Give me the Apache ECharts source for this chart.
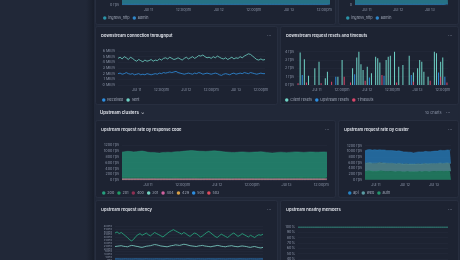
<!DOCTYPE html>
<html><head><meta charset="utf-8">
<script src="https://cdn.jsdelivr.net/npm/echarts@6/dist/echarts.min.js"></script>
<style>html,body{margin:0;padding:0;background:#212838;}#c{width:460px;height:260px;}</style>
</head><body><div id="c"></div>
<script>
// ---------- DATA ----------
const tickIndex = [9, 21, 33, 45, 57, 69];
const tickLabels = ['Jul 11', '12:00pm', 'Jul 12', '12:00pm', 'Jul 13', '12:00pm'];
const hours = Array.from({length: 72}, (_, i) => String(i)); // hourly slots, Jul 10 15:00 .. Jul 13 14:00

const ingressHttp = [
 820,830,840,835,825,830,845,850,840,820,810,815,805,800,810,820,825,815,830,840,845,850,860,870,
 875,865,860,855,850,845,855,865,870,860,850,835,825,820,810,805,815,825,830,820,810,815,825,830,
 835,825,815,805,795,800,810,820,815,805,810,820,830,825,815,810,820,830,825,820,815,825,830,820];
const adminReq = [
 20,21,20,19,20,21,20,20,19,20,21,20,20,19,20,21,20,20,19,20,21,20,20,19,
 20,21,20,20,19,20,21,20,20,19,20,21,20,20,19,20,21,20,20,19,20,21,20,20,
 19,20,21,20,20,19,20,21,20,20,19,20,21,20,20,19,20,21,20,20,19,20,21,20];

const sentMB = [
 4.7,4.9,4.6,5.0,4.8,4.5,4.9,4.7,4.4,4.2,4.5,4.3,
 4.1,4.4,4.2,4.3,4.5,4.2,4.4,4.3,4.6,4.4,4.7,4.8,
 4.6,4.9,4.7,4.5,4.6,4.8,4.6,4.4,4.7,4.9,4.6,4.8,
 5.0,4.7,4.9,5.2,5.1,5.3,5.0,4.8,4.9,4.7,5.0,4.8,
 5.1,4.9,4.7,4.6,4.8,4.5,4.7,4.9,4.6,4.8,4.7,5.0,
 4.8,5.1,5.3,5.5,5.4,5.1,4.8,4.5,4.4,4.6,4.4,4.5];
const receivedMB = [
 2.0,2.1,1.9,2.0,2.2,2.0,1.9,2.0,1.8,1.9,2.0,1.8,
 1.9,1.8,2.0,1.9,1.8,1.9,2.0,1.9,2.1,2.0,2.2,2.1,
 2.2,2.3,2.2,2.3,2.4,2.2,2.1,2.0,1.9,2.0,2.1,2.0,
 1.9,2.1,2.0,2.2,2.1,1.9,2.0,2.1,2.0,1.9,2.0,2.1,
 2.0,1.8,1.7,1.9,2.0,1.9,1.8,2.0,2.1,1.9,2.0,2.1,
 2.0,2.2,2.1,2.0,2.2,2.1,2.0,1.9,2.0,2.1,2.0,2.0];

const clientResets = [
 0,3.9,0,3.1,0,1.1,0,0,2.0,0,2.8,0,
 0,0.8,1.6,0,0,0,0,1.0,0,3.0,0,0,
 0,0,2.0,0,3.3,4.0,2.5,1.8,0,2.2,0,1.4,
 0,3.4,3.2,2.7,0,0,3.0,3.4,3.5,0,4.0,0,
 2.2,0,2.4,0,0,3.5,0,1.5,0,2.0,3.0,2.8,
 1.6,0,1.0,0,0,4.0,3.8,0,2.8,3.3,0,0];
const upstreamResets = [
 0,0,1.2,0,0,0,0,0,0,0,0,0,
 0,0,0,0,0,0,1.0,0,0,0,0,0,
 0,0,0,1.3,0,0,0,0,0,0,0.9,0,
 0,0,0,0,0,1.1,0,0,0,0,0,0,
 0,0,0,0,0,0,1.2,0,0,0,0,0,
 0,0,0,0,0,0,0,1.5,0,0,1.0,0];
const timeouts = [
 0.2,0,0,0,0.3,0,0,0,0,0,0,0.2,
 0,0,0,0,0.4,0,0,0,0,0,1.0,0,
 0,0.3,0,0,0,0,0,0,0.5,0,0,0,
 0,0,0,0,1.2,0,0,0,0,0,0,0.3,
 0,0,0,0,0,0,0,0.4,0,0,0,0,
 0,0,0,0.5,0,0,0,0,1.0,0,0,0.3];

const codeNames = ['200','201','400','301','404','429','500','503'];
const code200 = [
 865,885,895,890,875,880,895,905,890,865,850,855,
 845,835,850,860,865,855,870,880,885,895,905,915,
 925,915,905,900,895,890,900,910,915,905,895,880,
 870,865,855,850,860,870,875,865,855,860,870,875,
 880,870,860,850,840,845,855,865,860,850,855,865,
 875,870,860,855,865,875,870,865,860,870,875,865];
const code201 = [
 41,40,42,39,40,43,41,40,38,40,41,39,40,42,41,39,40,41,43,42,40,41,42,40,
 39,41,40,42,43,41,40,39,41,40,42,41,40,39,41,42,40,41,39,40,42,41,40,39,
 41,40,38,39,41,40,42,41,39,40,41,42,40,41,43,42,40,39,41,40,42,41,40,41];
const code400 = [
 6,5,6,7,6,5,6,6,7,6,5,6,6,7,6,5,6,6,7,6,5,6,6,7,6,5,6,6,7,6,5,6,6,7,6,5,
 6,6,7,6,5,6,6,7,6,5,6,6,7,6,5,6,6,7,6,5,6,6,7,6,5,6,6,7,6,5,6,6,7,6,5,6];
const code301 = [
 20,21,19,20,22,20,19,21,20,18,20,21,19,20,21,20,19,20,22,21,20,19,21,20,
 21,22,20,19,20,21,20,22,21,20,19,20,21,20,19,20,21,22,20,19,20,21,20,19,
 20,21,20,19,18,20,21,20,19,20,21,20,22,21,20,19,20,21,20,19,21,20,19,20];
const code404 = [
 15,14,16,15,14,15,16,15,14,15,15,16,14,15,16,15,14,15,15,16,15,14,15,16,
 15,16,15,14,15,16,15,15,14,15,16,15,14,15,15,16,15,14,15,16,15,15,14,15,
 16,15,14,15,15,16,15,14,15,15,16,15,14,15,16,15,15,14,15,16,15,14,15,15];
const code429 = [
 10,11,10,9,10,11,10,10,9,10,11,10,10,9,10,11,10,10,9,10,11,10,10,9,
 10,11,10,10,9,10,11,10,10,9,10,11,10,10,9,10,11,10,10,9,10,11,10,10,
 9,10,11,10,10,9,10,11,10,10,9,10,11,10,10,9,10,11,10,10,9,10,11,10];
const code500 = [
 3,3,4,3,3,2,3,3,4,3,3,2,3,3,4,3,3,2,3,3,4,3,3,2,3,3,4,3,3,2,3,3,4,3,3,2,
 3,3,4,3,3,2,3,3,4,3,3,2,3,3,4,3,3,2,3,3,4,3,3,2,3,3,4,3,3,2,3,3,4,3,3,2];
const code503 = [
 2,2,1,2,2,3,2,2,1,2,2,3,2,2,1,2,2,3,2,2,1,2,2,3,2,2,1,2,2,3,2,2,1,2,2,3,
 2,2,1,2,2,3,2,2,1,2,2,3,2,2,1,2,2,3,2,2,1,2,2,3,2,2,1,2,2,3,2,2,1,2,2,3];

const clusterNames = ['api','web','auth'];
const authRps = [
 300,310,305,315,320,310,305,300,295,300,305,310,
 315,320,310,305,300,295,290,295,300,305,300,295,
 290,285,290,295,300,295,290,285,280,285,290,295,
 290,285,280,285,290,285,280,285,290,295,290,285,
 290,295,300,295,290,285,290,295,300,305,300,295,
 300,305,310,305,300,295,300,305,310,305,300,305];
const webRps = [
 280,285,290,285,280,275,280,285,290,285,280,285,
 290,285,280,285,290,295,290,285,280,275,280,285,
 280,275,270,275,280,275,270,265,270,275,270,265,
 260,265,270,265,260,265,270,275,270,265,260,265,
 270,275,270,265,270,275,280,275,270,265,270,275,
 270,275,280,275,270,275,280,285,280,275,270,275];
const apiRps = [
 440,450,460,470,465,455,460,470,475,465,460,455,
 450,455,460,465,460,455,450,445,450,455,450,445,
 450,455,450,445,440,445,440,435,430,425,420,415,
 420,425,415,405,395,400,410,415,420,425,430,425,
 420,425,430,435,430,425,420,425,430,435,440,445,
 440,445,450,455,460,455,450,455,460,465,470,480];

const latencyP99 = [
 480,500,470,490,460,430,400,360,340,370,420,450,
 470,440,460,480,450,430,460,490,470,450,430,410,
 440,470,500,520,540,520,500,480,460,490,470,440,
 420,450,480,470,440,410,430,460,490,510,480,450,
 420,400,430,460,440,420,400,430,460,480,450,420,
 440,470,450,430,410,440,420,400,430,450,440,460];
const latencyP90 = [
 240,245,250,255,245,240,235,250,260,255,245,240,
 230,225,235,245,250,255,265,275,270,260,250,245,
 240,235,245,255,260,270,265,260,270,280,275,265,
 255,250,245,240,250,255,260,250,245,240,235,245,
 250,260,255,245,240,235,245,250,255,245,240,235,
 245,250,245,240,230,225,235,240,230,220,215,225];
const latencyP50 = [
 18,19,18,17,18,19,18,18,17,18,19,18,18,17,18,19,18,18,17,18,19,18,18,17,
 18,19,18,18,17,18,19,18,18,17,18,19,18,18,17,18,19,18,18,17,18,19,18,18,
 17,18,19,18,18,17,18,19,18,18,17,18,19,18,18,17,18,19,18,18,17,18,19,18];

const healthyPct = [
 100,100,100,100,100,100,100,100,100,100,100,100,100,100,100,100,100,100,100,100,100,100,100,100,
 100,100,100,100,100,100,100,100,100,100,100,100,100,100,100,100,100,100,100,100,100,100,100,100,
 100,100,100,100,100,100,100,100,100,100,100,100,100,100,100,100,100,100,100,100,100,100,100,100];

// ---------- LAYOUT / STYLE ----------
const FONT = 'Inter, "Noto Sans", sans-serif';
const AXC = '#8a93a6';
const FS = 3.7;
const panels = [
 {x:95, y:-60, w:240, h:84},
 {x:338, y:-60, w:120, h:84},
 {x:95, y:26, w:182, h:78, title:'Downstream connection throughput'},
 {x:280, y:26, w:178, h:78, title:'Downstream request resets and timeouts'},
 {x:95, y:120, w:240, h:77, title:'Upstream request rate by response code'},
 {x:338, y:120, w:120, h:77, title:'Upstream request rate by cluster'},
 {x:95, y:200, w:182, h:80, title:'Upstream request latency'},
 {x:280, y:200, w:178, h:80, title:'Upstream healthy members'}
];
const grids = [
 {left:122, top:-40, width:208, height:45},
 {left:355, top:-40, width:93, height:45},
 {left:118, top:51, width:147, height:34},
 {left:297, top:51.7, width:151, height:33.3},
 {left:122, top:145.3, width:205, height:34.7},
 {left:365, top:145.7, width:86, height:34},
 {left:115, top:226.3, width:148, height:33.7},
 {left:298, top:227, width:150, height:53}
];

function xAx(gi, dateOnly, gap) {
  return {
    type:'category', gridIndex:gi, data:hours, boundaryGap:!!gap,
    axisLine:{show:false}, axisTick:{show:false}, splitLine:{show:false},
    axisLabel:{
      fontSize:FS, color:AXC, fontFamily:FONT, margin:3,
      interval:(i)=>{ const k = tickIndex.indexOf(i); return k>=0 && (!dateOnly || tickLabels[k].indexOf('Jul')===0); },
      formatter:(v,i)=>{ const k = tickIndex.indexOf(i); return k>=0 ? tickLabels[k] : ''; }
    }
  };
}
function yAx(gi, max, interval, unit, fs) {
  return {
    type:'value', gridIndex:gi, min:0, max:max, interval:interval,
    axisLine:{show:false}, axisTick:{show:false},
    splitLine:{show:true, lineStyle:{color:'#262d3d', width:0.5}},
    axisLabel:{fontSize:fs||FS, color:AXC, fontFamily:FONT, margin:3, formatter:(v)=>v+unit}
  };
}
function lineS(name, data, gi, color, opts) {
  return Object.assign({
    name, type:'line', data, xAxisIndex:gi, yAxisIndex:gi, symbol:'none', showSymbol:false,
    lineStyle:{width:0.8, color}, itemStyle:{color}, animation:false
  }, opts||{});
}
function areaS(name, data, gi, color, stack) {
  return lineS(name, data, gi, color, {stack, lineStyle:{width:0.4, color}, areaStyle:{color, opacity:0.7}});
}
function barS(name, data, gi, color) {
  return {name, type:'bar', data, xAxisIndex:gi, yAxisIndex:gi, barWidth:1, barGap:'-100%',
    itemStyle:{color}, animation:false};
}
function legend(left, top, names) {
  return {left, top, data:names, icon:'circle', itemWidth:3.5, itemHeight:3.5, itemGap:3,
    selectedMode:false, padding:0,
    textStyle:{fontSize:FS, color:'#a3abbb', fontFamily:FONT, padding:[0,0,0,-3.2]}};
}

const C = {
  ingress:'#2b93a8', admin:'#2f86c9',
  recv:'#2d8ee0', sent:'#6fd3c6',
  client:'#6fd3c6', upstream:'#2d8ee0', timeout:'#d9476a',
  c200:'#25a07e', c201:'#1f9d66', c400:'#8e2f52', c301:'#70d1c0', c404:'#d162a0', c429:'#d9a046', c500:'#2d8ee0', c503:'#e04b5d',
  api:'#2684c6', web:'#5a9ca3', auth:'#22966c',
  p99:'#27b083', p90:'#7fd6c9', p50:'#2d8ee0', healthy:'#3cc7a6'
};

const graphic = [];
panels.forEach(p => {
  graphic.push({type:'rect', silent:true, z:-10, shape:{x:p.x+0.5, y:p.y+0.5, width:p.w, height:p.h, r:2},
    style:{fill:'#1d2332', stroke:'#2b3244', lineWidth:0.7}});
  if (p.title) {
    graphic.push({type:'text', silent:true, style:{text:p.title, x:p.x+6, y:p.y+9.5, fill:'#e4e7ee',
      font:'600 4.1px '+FONT, textVerticalAlign:'middle'}});
  }
  graphic.push({type:'text', silent:true, style:{text:'···', x:p.x+p.w-10, y:p.y+9.5, fill:'#7d8698',
    font:'600 4.4px '+FONT, textVerticalAlign:'middle'}});
});
graphic.push({type:'text', silent:true, style:{text:'Upstream clusters  ⌄', x:100, y:112.5, fill:'#e4e7ee', font:'600 4.4px '+FONT, textVerticalAlign:'middle'}});
graphic.push({type:'text', silent:true, style:{text:'10 charts', x:425, y:112.5, fill:'#8a93a6', font:'3.9px '+FONT, textVerticalAlign:'middle'}});
graphic.push({type:'text', silent:true, style:{text:'···', x:446, y:112.5, fill:'#8a93a6', font:'600 4.4px '+FONT, textVerticalAlign:'middle'}});
graphic.push({type:'rect', silent:true, z:-10, shape:{x:86, y:0, width:8, height:260},
  style:{fill:new echarts.graphic.LinearGradient(0,0,1,0,[{offset:0,color:'rgba(20,25,36,0)'},{offset:1,color:'rgba(20,25,36,0.7)'}])}});

const option = {
  backgroundColor:'#212838',
  animation:false,
  grid: grids.map(g => Object.assign({containLabel:false, outerBoundsMode:'none'}, g)),
  xAxis:[xAx(0,false), xAx(1,true), xAx(2,false), xAx(3,false,true), xAx(4,false), xAx(5,true), xAx(6,false), xAx(7,false)],
  yAxis:[
    yAx(0,1200,200,' rps'), yAx(1,1200,200,''), yAx(2,6,1,' MB/s'), yAx(3,4,1,' rps'),
    yAx(4,1200,200,' rps'), yAx(5,1200,200,' rps'), yAx(6,600,50,'ms',2.5), yAx(7,100,10,'%')
  ],
  legend:[
    legend(103, 16, ['ingress_http','admin']),
    legend(346, 16, ['ingress_http','admin']),
    legend(102, 98, ['Received','Sent']),
    legend(285, 98, ['Client resets','Upstream resets','Timeouts']),
    legend(102, 191, codeNames),
    legend(348, 191, clusterNames)
  ],
  series:[
    areaS('admin', adminReq, 0, C.admin, 'a0'),
    areaS('ingress_http', ingressHttp, 0, C.ingress, 'a0'),
    areaS('admin', adminReq, 1, C.admin, 'a1'),
    areaS('ingress_http', ingressHttp, 1, C.ingress, 'a1'),
    lineS('Received', receivedMB, 2, C.recv),
    lineS('Sent', sentMB, 2, C.sent),
    barS('Client resets', clientResets, 3, C.client),
    barS('Upstream resets', upstreamResets, 3, C.upstream),
    barS('Timeouts', timeouts, 3, C.timeout),
    areaS('503', code503, 4, C.c503, 'c'),
    areaS('500', code500, 4, C.c500, 'c'),
    areaS('429', code429, 4, C.c429, 'c'),
    areaS('404', code404, 4, C.c404, 'c'),
    areaS('301', code301, 4, C.c301, 'c'),
    areaS('400', code400, 4, C.c400, 'c'),
    areaS('201', code201, 4, C.c201, 'c'),
    areaS('200', code200, 4, C.c200, 'c'),
    areaS('auth', authRps, 5, C.auth, 'k'),
    areaS('web', webRps, 5, C.web, 'k'),
    areaS('api', apiRps, 5, C.api, 'k'),
    lineS('p99', latencyP99, 6, C.p99),
    lineS('p90', latencyP90, 6, C.p90),
    lineS('p50', latencyP50, 6, C.p50),
    lineS('healthy', healthyPct, 7, C.healthy)
  ],
  graphic
};
const chart = echarts.init(document.getElementById('c'), null, {renderer:'canvas'});
chart.setOption(option);
</script>
</body></html>
